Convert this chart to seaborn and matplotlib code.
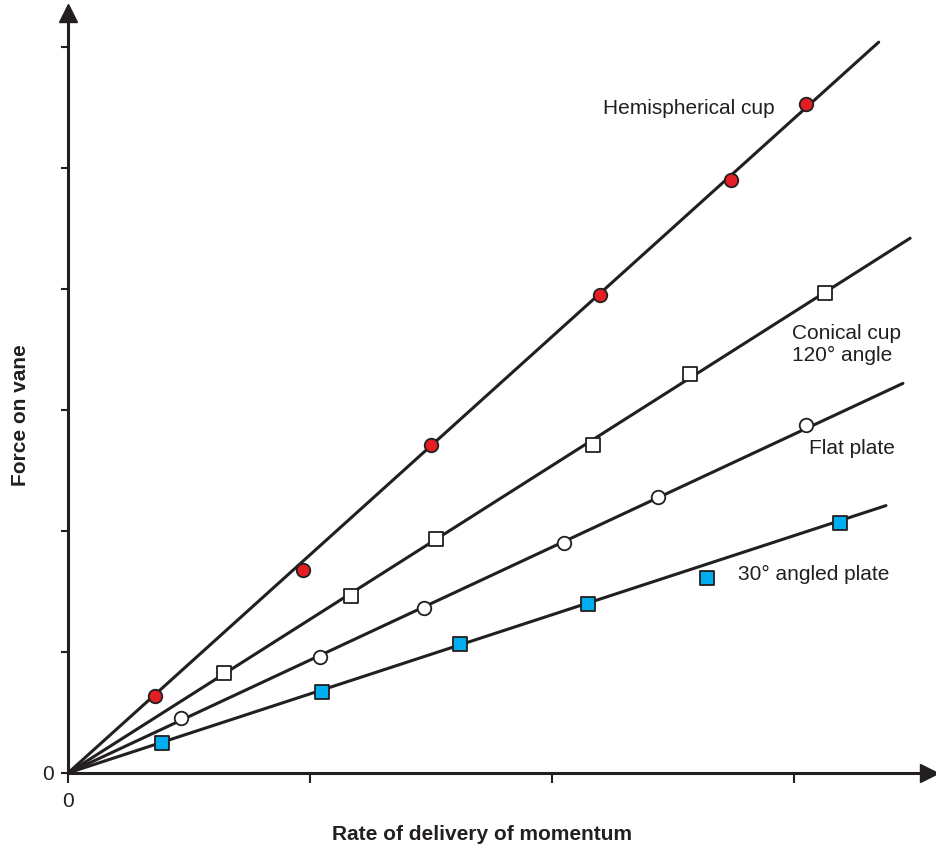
import matplotlib
matplotlib.use("Agg")
import matplotlib.pyplot as plt
import numpy as np
import pandas as pd
import seaborn as sns

# measured points (x in x-tick units, y in y-tick units)
hemi_x = [0.36, 0.97, 1.50, 2.20, 2.74, 3.05]
hemi_y = [0.64, 1.68, 2.71, 3.95, 4.90, 5.53]
cone_x = [0.645, 1.17, 1.52, 2.17, 2.57, 3.13]
cone_y = [0.83, 1.46, 1.93, 2.71, 3.30, 3.97]
flat_x = [0.467, 1.04, 1.47, 2.05, 2.44, 3.05]
flat_y = [0.455, 0.96, 1.36, 1.90, 2.28, 2.88]
angled_x = [0.39, 1.05, 1.62, 2.15, 2.64, 3.19]
angled_y = [0.25, 0.67, 1.07, 1.40, 1.61, 2.07]

# fitted lines through origin: end points
line_end_x = [3.35, 3.48, 3.45, 3.38]
line_end_y = [6.04, 4.42, 3.22, 2.21]

labels = ["Hemispherical cup", "Conical cup\n120° angle", "Flat plate", "30° angled plate"]
label_x = [2.21, 2.99, 3.06, 2.77]
label_y = [5.49, 3.54, 2.68, 1.64]

sns.set_style("white")
plt.rcParams["font.family"] = ["Liberation Sans", "DejaVu Sans"]

ink = "#231f20"
fs = 15
fig = plt.figure(figsize=(9.37, 8.52), dpi=100)
ax = fig.add_axes([68 / 937, 79 / 852, 861 / 937, 760 / 852])

for i in range(4):
    seg = pd.DataFrame({"x": [0, line_end_x[i]], "y": [0, line_end_y[i]]})
    sns.lineplot(data=seg, x="x", y="y", ax=ax, color=ink, lw=2.2, zorder=2)

series = [
    (hemi_x, hemi_y, "o", "#e31e24"),
    (cone_x, cone_y, "s", "white"),
    (flat_x, flat_y, "o", "white"),
    (angled_x, angled_y, "s", "#00aeef"),
]
for xs, ys, m, c in series:
    df = pd.DataFrame({"x": xs, "y": ys})
    sns.scatterplot(data=df, x="x", y="y", ax=ax, marker=m, color=c,
                    edgecolor=ink, linewidth=1.3, s=95 if m == "o" else 90, zorder=3)

for t, lx, ly in zip(labels, label_x, label_y):
    ax.text(lx, ly, t, fontsize=fs, color=ink, va="center", ha="left", linespacing=1.2)

ax.set_xlim(0, 861 / 242)
ax.set_ylim(0, 760 / 121)
for s in ["top", "right"]:
    ax.spines[s].set_visible(False)
for s in ["left", "bottom"]:
    ax.spines[s].set_linewidth(2.2)
    ax.spines[s].set_color(ink)

ax.set_xticks([0, 1, 2, 3])
ax.set_xticklabels(["0", "", "", ""])
ax.set_yticks(range(7))
ax.set_yticklabels(["0"] + [""] * 6)
ax.tick_params(axis="x", bottom=True, length=7, width=1.5, color=ink, labelsize=fs, pad=7, labelcolor=ink)
ax.tick_params(axis="y", left=True, length=5, width=1.5, color=ink, labelsize=fs, pad=5, labelcolor=ink)

ax.plot(1, 0, ">", color=ink, ms=13, transform=ax.get_yaxis_transform(), clip_on=False)
ax.plot(0, 1, "^", color=ink, ms=13, transform=ax.get_xaxis_transform(), clip_on=False)

ax.set_xlabel("Rate of delivery of momentum", fontsize=fs, fontweight="bold", color=ink)
ax.set_ylabel("Force on vane", fontsize=fs, fontweight="bold", color=ink)
ax.xaxis.set_label_coords((482 - 68) / 861, -(825 - 773) / 760)
ax.yaxis.set_label_coords(-(68 - 30) / 861, (773 - 415) / 760)

fig.savefig("out.png", dpi=100)
